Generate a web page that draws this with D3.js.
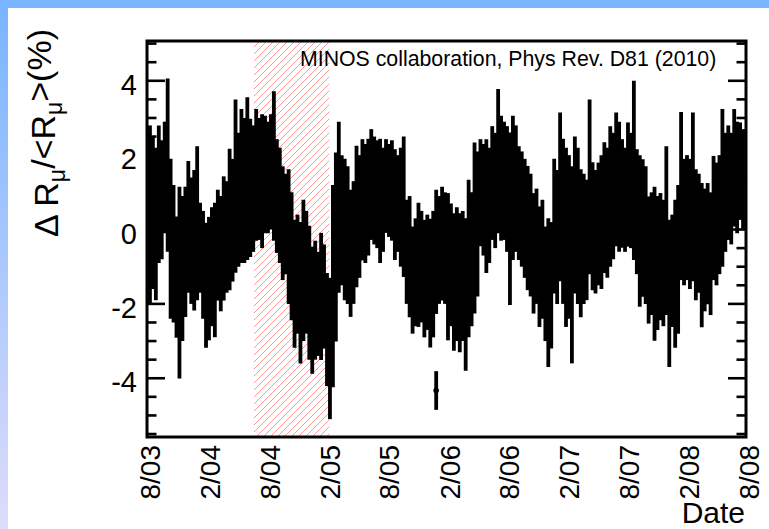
<!DOCTYPE html>
<html><head><meta charset="utf-8">
<script src="https://cdn.jsdelivr.net/npm/d3@7"></script>
<style>
html,body{margin:0;padding:0;background:#fff;}
svg{display:block;}
text{font-family:"Liberation Sans",Arial,Helvetica,sans-serif;fill:#000;}
</style></head>
<body><svg id="c" width="769" height="529"></svg>
<script>
// ---------- DATA ----------
const startDate = "2003-08-01";
const endDate = "2008-08-01";
const dayStep = 9; // one entry every 9 days
// central value of ΔRμ/<Rμ> (%) for each entry
const values = [
0.55,0.4,0.45,0.15,0.95,0.8,1.4,1.73,-0.25,-0.65,
-1.28,-1.43,-1.05,-0.6,0.07,-0.3,-0.29,0.17,-0.49,-0.95,
-1.5,-1.32,-1.0,-1.09,-0.42,-0.65,-0.24,-0.2,0.27,0.25,
1.17,0.8,1.17,1.05,1.37,1.12,1.1,1.47,1.36,1.3,
1.48,1.4,1.55,1.71,0.9,0.65,0.17,0.15,-0.19,-0.72,
-1.46,-1.2,-1.7,-1.1,-1.15,-1.7,-2.17,-1.9,-2.0,-1.8,
-1.8,-2.69,-3.2,-1.52,-0.47,0.6,0.25,0.0,-0.15,-0.64,
-0.35,0.35,0.35,0.8,0.7,0.87,1.21,1.05,0.95,0.77,
0.8,1.17,1.05,1.05,0.67,0.7,0.6,0.61,-0.6,-0.73,
-1.36,-1.15,-0.95,-1.0,-1.32,-1.15,-1.44,-1.2,-0.6,-0.55,
-0.38,-0.5,-1.0,-0.95,-1.41,-1.2,-1.43,-1.25,-1.75,-0.78,
-0.8,0.04,0.15,0.99,0.8,0.63,0.65,1.25,1.05,1.84,
1.38,1.31,1.09,0.29,1.12,1.1,0.71,0.55,0.3,0.04,
-0.15,-0.64,-0.45,-1.0,-0.8,-1.46,-1.7,-1.5,0.09,-0.2,
0.88,0.22,-0.21,-0.2,-0.95,0.39,0.1,-0.37,-0.25,-0.28,
1.15,0.09,-0.06,0.15,0.2,0.59,0.45,0.89,0.9,1.35,
1.15,0.97,0.8,1.21,1.05,1.59,0.48,-0.04,0.04,-0.15,
-0.82,-0.65,-0.92,-0.9,-0.73,-0.9,-0.03,-1.72,-1.11,-1.19,
-0.8,0.9,0.2,0.32,0.15,0.88,-0.14,-0.1,-0.69,-0.55,
-0.38,-0.65,0.31,0.15,0.4,1.12,1.0,1.26,1.1,1.66,
1.4,1.57,1.35];
// spread (±, %) covered by the error bars of each entry
const errors = [
2.05,2.4,2.05,2.05,1.85,1.6,1.5,2.33,2.15,1.85,
1.63,2.58,1.95,1.75,1.77,1.7,1.89,2.07,1.21,1.45,
1.68,1.66,1.6,1.81,1.49,1.55,1.67,1.5,1.9,1.65,
2.33,1.8,2.07,1.95,2.19,1.86,1.7,1.77,1.64,1.8,
1.58,1.5,1.55,2.01,1.53,1.55,1.53,1.35,1.81,1.72,
1.72,1.6,1.9,1.9,1.65,1.8,1.71,1.6,1.4,1.71,
1.4,1.52,1.9,2.72,2.54,2.3,1.75,1.9,1.85,1.71,
1.65,1.9,1.65,1.63,1.6,1.57,1.49,1.45,1.45,1.67,
1.4,1.26,1.25,1.35,1.49,1.3,1.6,1.89,1.4,1.63,
1.44,1.45,1.67,1.5,1.58,1.55,1.73,1.7,1.67,1.45,
1.53,1.5,1.98,1.65,1.85,1.8,1.87,1.75,2.05,2.12,
1.8,2.3,1.95,1.44,1.5,1.8,1.55,1.53,1.55,1.94,
1.68,1.59,1.69,2.32,1.94,1.7,1.53,1.55,1.6,1.67,
1.65,1.62,1.55,1.62,1.6,1.54,2.0,1.7,1.81,1.8,
2.27,2.22,2.41,2.2,2.65,2.11,2.1,1.99,1.75,1.62,
2.35,1.72,1.66,1.65,1.8,1.76,1.75,1.89,1.7,1.8,
1.75,1.46,1.4,1.67,1.55,2.41,1.68,2.04,1.85,1.85,
1.71,1.65,2.07,1.8,1.71,1.7,2.27,1.98,1.51,1.99,
2.0,2.26,1.7,1.68,1.75,2.27,1.76,1.6,1.94,1.65,
1.63,1.65,1.67,1.65,1.6,2.12,1.6,1.54,1.5,1.58,
1.5,1.31,1.35];
// isolated low point
const outlierDates = ["2005-12-30"];
const outlierValues = [-4.33];
const outlierErrors = [0.52];
// hatched period
const hatchStart = "2004-06-22";
const hatchEnd = "2005-02-07";
// axes
const tickDates = ["2003-08-01","2004-02-01","2004-08-01","2005-02-01","2005-08-01","2006-02-01","2006-08-01","2007-02-01","2007-08-01","2008-02-01","2008-08-01"];
const tickLabels = ["8/03","2/04","8/04","2/05","8/05","2/06","8/06","2/07","8/07","2/08","8/08"];
const yMajorTicks = [-4,-2,0,2,4];
const yDomain = [-5.58, 5.07];
const titleText = "MINOS collaboration, Phys Rev. D81 (2010)";
const xTitle = "Date";

// ---------- DRAW ----------
const svg = d3.select("#c");
const W = 769, H = 529;
const L = 147, R = 746, T = 41, B = 437;
const parse = d3.utcParse("%Y-%m-%d");
const x = d3.scaleUtc().domain([parse(startDate), parse(endDate)]).range([L, R]);
const y = d3.scaleLinear().domain(yDomain).range([B, T]);

const defs = svg.append("defs");
const lg = defs.append("linearGradient").attr("id","lg").attr("x1",0).attr("y1",0).attr("x2",0).attr("y2",1);
lg.append("stop").attr("offset","0%").attr("stop-color","#78b4ff");
lg.append("stop").attr("offset","100%").attr("stop-color","#dedcfa");
const pat = defs.append("pattern").attr("id","hatch").attr("patternUnits","userSpaceOnUse").attr("width",7).attr("height",7);
pat.append("path").attr("d","M-1,1 L1,-1 M0,7 L7,0 M6,8 L8,6").attr("stroke","#ff8c8c").attr("stroke-width",0.9);
defs.append("clipPath").attr("id","clip").append("rect").attr("x",L).attr("y",T).attr("width",R-L).attr("height",B-T);

// background
svg.append("rect").attr("width",W).attr("height",H).attr("fill","#fff");
svg.append("rect").attr("x",0).attr("y",0).attr("width",8).attr("height",H).attr("fill","url(#lg)");
svg.append("rect").attr("x",0).attr("y",0).attr("width",W).attr("height",8).attr("fill","#78b4ff");

// hatch
svg.append("rect").attr("x",x(parse(hatchStart))).attr("y",T)
  .attr("width",x(parse(hatchEnd))-x(parse(hatchStart))).attr("height",B-T)
  .attr("fill","url(#hatch)");

// title
svg.append("text").attr("x",300).attr("y",66).attr("font-size",21.3).text(titleText);

// data
const start = parse(startDate);
const pts = values.map((v,i)=>({d:d3.utcDay.offset(start,i*dayStep), v, e:errors[i]}));
outlierDates.forEach((d,i)=>pts.push({d:parse(d), v:outlierValues[i], e:outlierErrors[i]}));
const g = svg.append("g").attr("clip-path","url(#clip)");
g.selectAll("line.eb").data(pts).join("line").attr("class","eb")
  .attr("x1",d=>x(d.d)).attr("x2",d=>x(d.d))
  .attr("y1",d=>y(d.v-d.e)).attr("y2",d=>y(d.v+d.e))
  .attr("stroke","#000").attr("stroke-width",3.8);
g.selectAll("circle").data(pts).join("circle")
  .attr("cx",d=>x(d.d)).attr("cy",d=>y(d.v)).attr("r",2.8).attr("fill","#000");

// frame
svg.append("rect").attr("x",L).attr("y",T).attr("width",R-L).attr("height",B-T)
  .attr("fill","none").attr("stroke","#000").attr("stroke-width",3);

// y ticks (left and right)
const minor = d3.range(Math.ceil(yDomain[0]*2)/2, yDomain[1]+0.001, 0.5);
const tg = svg.append("g");
minor.forEach(v=>{
  const major = yMajorTicks.includes(v);
  const len = major ? 18 : 9.5;
  tg.append("line").attr("x1",L).attr("x2",L+len).attr("y1",y(v)).attr("y2",y(v)).attr("stroke","#000").attr("stroke-width",2.6);
  tg.append("line").attr("x1",R).attr("x2",R-len).attr("y1",y(v)).attr("y2",y(v)).attr("stroke","#000").attr("stroke-width",2.6);
});
svg.append("g").selectAll("text").data(yMajorTicks).join("text")
  .attr("x",137).attr("y",d=>y(d)+4).attr("dy","0.35em").attr("text-anchor","end")
  .attr("font-size",29).text(d=>String(d));

// x labels
svg.append("g").selectAll("text").data(tickDates).join("text")
  .attr("transform",(d)=>`translate(${x(parse(d))+3},445) rotate(-90)`)
  .attr("dy","0.35em").attr("text-anchor","end").attr("font-size",28)
  .text((d,i)=>tickLabels[i]);

// x title
svg.append("text").attr("x",745).attr("y",523).attr("text-anchor","end").attr("font-size",30).text(xTitle);

// y title
const yt = svg.append("text").attr("transform","translate(58,29) rotate(-90)").attr("text-anchor","end").attr("font-size",34);
yt.append("tspan").text("Δ R");
yt.append("tspan").attr("dy","0.3em").attr("font-size",23).text("μ");
yt.append("tspan").attr("dy","-0.3em").text("/<R");
yt.append("tspan").attr("dy","0.3em").attr("font-size",23).text("μ");
yt.append("tspan").attr("dy","-0.3em").text(">(%)");
</script></body></html>
